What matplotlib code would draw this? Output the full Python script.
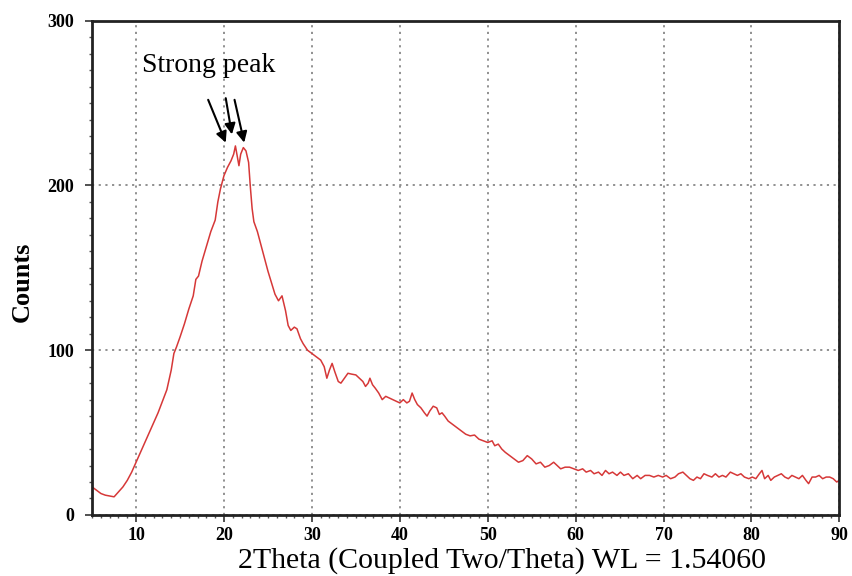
import matplotlib.pyplot as plt
from matplotlib.ticker import MultipleLocator

# Difractograma XRD (2theta vs cuentas)
two_theta = [
    5.0, 5.5, 6.0, 6.5, 7.0, 7.5, 8.0, 8.5, 9.0, 9.5, 10.0, 10.5,
    11.0, 11.5, 12.0, 12.5, 13.0, 13.5, 14.0, 14.3, 14.6, 15.0, 15.5, 16.0,
    16.5, 16.8, 17.1, 17.5, 18.0, 18.5, 19.0, 19.3, 19.6, 20.0, 20.4, 20.8,
    21.1, 21.3, 21.5, 21.7, 21.9, 22.2, 22.5, 22.8, 23.0, 23.2, 23.4, 23.8,
    24.2, 24.6, 25.0, 25.4, 25.8, 26.2, 26.6, 27.0, 27.3, 27.6, 28.0, 28.3,
    28.7, 29.0, 29.5, 30.0, 30.5, 31.0, 31.4, 31.7, 32.0, 32.3, 32.6, 33.0,
    33.3, 33.7, 34.1, 34.5, 35.0, 35.4, 35.8, 36.1, 36.4, 36.6, 36.9, 37.2,
    37.6, 38.0, 38.4, 38.8, 39.2, 39.6, 40.0, 40.4, 40.8, 41.1, 41.4, 41.7,
    42.0, 42.4, 42.8, 43.1, 43.4, 43.8, 44.2, 44.5, 44.8, 45.1, 45.5, 46.0,
    46.5, 47.0, 47.5, 48.0, 48.5, 49.0, 49.5, 50.0, 50.5, 50.8, 51.2, 51.6,
    52.0, 52.5, 53.0, 53.5, 54.0, 54.5, 55.0, 55.5, 56.0, 56.5, 57.0, 57.5,
    57.9, 58.3, 58.8, 59.3, 59.8, 60.3, 60.8, 61.2, 61.7, 62.1, 62.6, 63.0,
    63.4, 63.8, 64.2, 64.7, 65.1, 65.5, 66.0, 66.5, 67.0, 67.4, 67.9, 68.4,
    68.9, 69.4, 69.9, 70.3, 70.8, 71.3, 71.7, 72.2, 72.6, 73.0, 73.4, 73.8,
    74.2, 74.6, 75.0, 75.5, 75.9, 76.3, 76.7, 77.1, 77.6, 78.0, 78.4, 78.8,
    79.2, 79.7, 80.1, 80.5, 80.9, 81.2, 81.5, 81.9, 82.2, 82.6, 83.0, 83.4,
    83.8, 84.2, 84.6, 85.0, 85.4, 85.8, 86.2, 86.5, 86.9, 87.3, 87.7, 88.1,
    88.5, 88.9, 89.3, 89.7, 90.0,
]
counts = [
    17, 15, 13, 12, 11.5, 11, 14, 17, 21, 26, 32, 38,
    44, 50, 56, 62, 69, 76, 88, 98, 102, 108, 116, 125,
    133, 143, 145, 154, 163, 172, 179, 190, 198, 206, 211, 215,
    219, 224, 218, 212, 219, 223, 221, 214, 199, 186, 178, 172,
    164, 156, 148, 141, 134, 130, 133, 124, 115, 112, 114, 113,
    107, 104, 100, 98, 96, 94, 90, 83, 88, 92, 87, 81,
    80, 83, 86, 85.5, 85, 83, 81, 78, 80, 83, 79, 77,
    74, 70, 72, 71, 70, 69, 68, 70, 68, 69, 74, 70,
    67, 65, 62, 60, 63, 66, 65, 61, 62, 60, 57, 55,
    53, 51, 49, 48, 48.5, 46, 45, 44, 45, 42, 43, 40,
    38, 36, 34, 32, 33, 36, 34, 31, 32, 29, 30, 32,
    30, 28, 29, 29, 28, 27, 28, 26, 27, 25, 26, 24,
    27, 25, 26, 24, 26, 24, 25, 22, 24, 22, 24, 24,
    23, 24, 23, 24, 22, 23, 25, 26, 24, 22, 21, 23,
    22, 25, 24, 23, 25, 23, 24, 23, 26, 25, 24, 25,
    23, 22, 23, 22, 25, 27, 22, 24, 21, 23, 24, 25,
    23, 22, 24, 23, 22, 24, 21, 19, 23, 23, 24, 22,
    23, 23, 22, 20, 21,
]

# flechas hacia el pico: (inicio, punta)
arrow_start = [(18.2, 252), (20.2, 253), (21.2, 252)]
arrow_end = [(20.2, 226), (20.9, 231), (22.3, 226)]

plt.rcParams['font.family'] = ['Liberation Serif', 'DejaVu Serif']

fig = plt.figure(figsize=(8.53, 5.76), dpi=100)
ax = fig.add_axes([0.108, 0.106, 0.876, 0.858])

ax.plot(two_theta, counts, color='#d63838', lw=1.1)

ax.set_xlim(5, 90)
ax.set_ylim(0, 300)
ax.xaxis.set_major_locator(MultipleLocator(10))
ax.xaxis.set_minor_locator(MultipleLocator(1))
ax.yaxis.set_major_locator(MultipleLocator(100))
ax.yaxis.set_minor_locator(MultipleLocator(10))
ax.tick_params(which='major', length=5, width=1.2, labelsize=13, color='#333333')
ax.tick_params(which='minor', length=2.5, width=1, color='#555555')
ax.tick_params(axis='y', pad=8)
for lab in ax.get_xticklabels() + ax.get_yticklabels():
    lab.set_fontweight('bold')

ax.grid(True, which='major', linestyle=(0, (1.2, 2.5)), color='#888888', lw=1.3)
for s in ax.spines.values():
    s.set_linewidth(2)
    s.set_color('#222222')

ax.set_xlabel('2Theta (Coupled Two/Theta) WL = 1.54060', fontsize=21.5)
ax.xaxis.set_label_coords(0.549, -0.064)
ax.set_ylabel('Counts', fontsize=19, fontweight='bold')
ax.yaxis.set_label_coords(-0.078, 0.472)

ax.text(10.7, 273, 'Strong peak', fontsize=20, va='center', ha='left')
for (x0, y0), (x1, y1) in zip(arrow_start, arrow_end):
    ax.annotate('', xy=(x1, y1), xytext=(x0, y0),
                arrowprops=dict(arrowstyle='-|>', color='black', lw=1.5,
                                mutation_scale=16, shrinkA=0, shrinkB=0))

fig.savefig('out.png', dpi=100)
